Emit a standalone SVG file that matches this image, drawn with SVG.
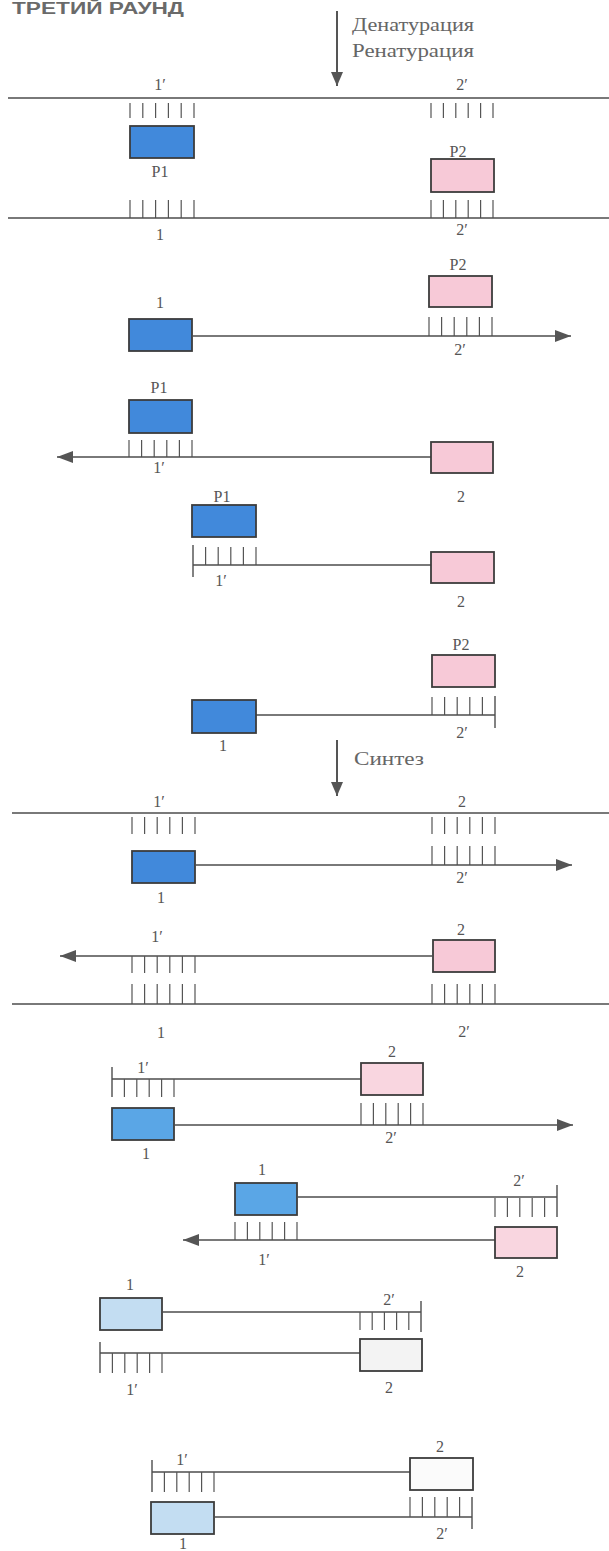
<svg xmlns="http://www.w3.org/2000/svg" width="609" height="1551" viewBox="0 0 609 1551">
<defs>
<style>
.ln{stroke:#4d4d4d;stroke-width:1.6;fill:none}
.tk{stroke:#555;stroke-width:1.2;fill:none}
.cap{stroke:#4d4d4d;stroke-width:1.4;fill:none}
.bx{stroke:#3c3c3c;stroke-width:1.8}
.b1{fill:#4189db}
.b2{fill:#5aa6e6}
.b3{fill:#c3ddf2}
.pk{fill:#f7c9d7}
.pk2{fill:#f9d6e0}
.gr{fill:#f3f3f3}
.wh{fill:#fbfbfb}
.lb{font-family:"Liberation Serif","Times New Roman",serif;font-size:16px;fill:#555;text-anchor:middle}
.st{font-family:"Liberation Serif","Times New Roman",serif;font-size:18px;fill:#666}
.tt{font-family:"Liberation Sans",Arial,sans-serif;font-size:16px;font-weight:bold;fill:#6a6a6a}
.ar{stroke:#555;stroke-width:2;fill:none}
</style>
<marker id="ah" markerUnits="userSpaceOnUse" viewBox="0 0 16 12" refX="16" refY="6" markerWidth="16" markerHeight="12" orient="auto">
<path d="M0 0 L16 6 L0 12 Z" fill="#555"/>
</marker>
<marker id="ahv" markerUnits="userSpaceOnUse" viewBox="0 0 14 12" refX="14" refY="6" markerWidth="14" markerHeight="12" orient="auto">
<path d="M0 0 L14 6 L0 12 Z" fill="#555"/>
</marker>
</defs>
<rect width="609" height="1551" fill="#fff"/>

<text class="tt" x="12" y="13.5" textLength="172" lengthAdjust="spacingAndGlyphs">ТРЕТИЙ РАУНД</text>

<g id="connectors">
<line class="ar" x1="337" y1="11" x2="337" y2="86" marker-end="url(#ahv)"/>
<line class="ar" x1="337" y1="740" x2="337" y2="796" marker-end="url(#ahv)"/>
</g>
<g id="step-labels">
<text class="st" x="352" y="31" textLength="122" lengthAdjust="spacingAndGlyphs">Денатурация</text>
<text class="st" x="352" y="57" textLength="122" lengthAdjust="spacingAndGlyphs">Ренатурация</text>
<text class="st" x="354" y="765" textLength="70" lengthAdjust="spacingAndGlyphs">Синтез</text>
</g>

<!-- Block 1 -->
<g id="block1">
<text class="lb" x="160" y="90">1′</text>
<text class="lb" x="462" y="90">2′</text>
<path class="ln" d="M8 98 H609"/>
<path class="tk" d="M130 103V118M142.8 103V118M155.6 103V118M168.4 103V118M181.2 103V118M194 103V118"/>
<path class="tk" d="M431 103V118M443.4 103V118M455.8 103V118M468.2 103V118M480.6 103V118M493 103V118"/>
<rect id="b1-p1" class="bx b1" x="130" y="126" width="64" height="32"/>
<text class="lb" x="160" y="177">P1</text>
<text class="lb" x="458" y="157">P2</text>
<rect id="b1-p2" class="bx pk" x="431" y="159" width="63" height="33"/>
<path class="tk" d="M130 200V218M142.8 200V218M155.6 200V218M168.4 200V218M181.2 200V218M194 200V218"/>
<path class="tk" d="M431 200V218M443.4 200V218M455.8 200V218M468.2 200V218M480.6 200V218M493 200V218"/>
<path class="ln" d="M8 218 H609"/>
<text class="lb" x="160" y="240">1</text>
<text class="lb" x="462" y="235">2′</text>
</g>

<!-- Block 2a -->
<g id="block2a">
<text class="lb" x="458" y="270">P2</text>
<rect class="bx pk" x="429" y="276" width="63" height="31"/>
<text class="lb" x="160" y="308">1</text>
<rect class="bx b1" x="129" y="319" width="63" height="32"/>
<path class="tk" d="M429 317V336M441.6 317V336M454.2 317V336M466.8 317V336M479.4 317V336M492 317V336"/>
<path class="ln" d="M192 336 H571" marker-end="url(#ah)"/>
<text class="lb" x="460" y="355">2′</text>
</g>

<!-- Block 2b -->
<g id="block2b">
<text class="lb" x="159" y="393">P1</text>
<rect class="bx b1" x="129" y="400" width="63" height="33"/>
<path class="tk" d="M129 440V457M141.6 440V457M154.2 440V457M166.8 440V457M179.4 440V457M192 440V457"/>
<path class="ln" d="M431 457 H57" marker-end="url(#ah)"/>
<rect class="bx pk" x="431" y="442" width="62" height="31"/>
<text class="lb" x="159" y="473">1′</text>
<text class="lb" x="461" y="502">2</text>
</g>

<!-- Block 3a -->
<g id="block3a">
<text class="lb" x="222" y="502">P1</text>
<rect class="bx b1" x="192" y="505" width="64" height="32"/>
<path class="cap" d="M193 545V577"/>
<path class="tk" d="M205.6 547V565M218.2 547V565M230.8 547V565M243.4 547V565M256 547V565"/>
<path class="ln" d="M193 565 H431"/>
<rect class="bx pk" x="431" y="552" width="63" height="31"/>
<text class="lb" x="221" y="586">1′</text>
<text class="lb" x="461" y="607">2</text>
</g>

<!-- Block 3b -->
<g id="block3b">
<text class="lb" x="461" y="650">P2</text>
<rect class="bx pk" x="432" y="655" width="63" height="32"/>
<path class="tk" d="M432 697V715M444.6 697V715M457.2 697V715M469.8 697V715M482.4 697V715"/>
<path class="cap" d="M495 696V728"/>
<path class="ln" d="M256 715 H495"/>
<rect class="bx b1" x="192" y="700" width="64" height="33"/>
<text class="lb" x="462" y="738">2′</text>
<text class="lb" x="223" y="751">1</text>
</g>

<!-- Block 4 -->
<g id="block4">
<text class="lb" x="159" y="807">1′</text>
<text class="lb" x="462" y="807">2</text>
<path class="ln" d="M12 813 H609"/>
<path class="tk" d="M132 817V834M144.6 817V834M157.2 817V834M169.8 817V834M182.4 817V834M195 817V834"/>
<path class="tk" d="M432 817V834M444.6 817V834M457.2 817V834M469.8 817V834M482.4 817V834M495 817V834"/>
<rect class="bx b1" x="132" y="851" width="63" height="32"/>
<path class="tk" d="M432 846V865M444.6 846V865M457.2 846V865M469.8 846V865M482.4 846V865M495 846V865"/>
<path class="ln" d="M195 865 H572" marker-end="url(#ah)"/>
<text class="lb" x="462" y="883">2′</text>
<text class="lb" x="161" y="903">1</text>
<text class="lb" x="461" y="935">2</text>
<text class="lb" x="157" y="942">1′</text>
<rect class="bx pk" x="433" y="940" width="62" height="32"/>
<path class="ln" d="M433 956 H60" marker-end="url(#ah)"/>
<path class="tk" d="M132 956V973M144.6 956V973M157.2 956V973M169.8 956V973M182.4 956V973M195 956V973"/>
<path class="tk" d="M132 984V1004M144.6 984V1004M157.2 984V1004M169.8 984V1004M182.4 984V1004M195 984V1004"/>
<path class="tk" d="M432 984V1004M444.6 984V1004M457.2 984V1004M469.8 984V1004M482.4 984V1004M495 984V1004"/>
<path class="ln" d="M12 1004 H609"/>
<text class="lb" x="161" y="1038">1</text>
<text class="lb" x="464" y="1037">2′</text>
</g>

<!-- Block 5a -->
<g id="block5a">
<text class="lb" x="392" y="1057">2</text>
<text class="lb" x="143" y="1073">1′</text>
<path class="cap" d="M112 1067V1097"/>
<path class="ln" d="M112 1079 H361"/>
<path class="tk" d="M124.4 1079V1097M136.8 1079V1097M149.2 1079V1097M161.6 1079V1097M174 1079V1097"/>
<rect class="bx pk2" x="361" y="1063" width="62" height="32"/>
<rect class="bx b2" x="112" y="1108" width="62" height="32"/>
<path class="tk" d="M361 1103V1125M373.4 1103V1125M385.8 1103V1125M398.2 1103V1125M410.6 1103V1125M423 1103V1125"/>
<path class="ln" d="M174 1125 H573" marker-end="url(#ah)"/>
<text class="lb" x="391" y="1143">2′</text>
<text class="lb" x="146" y="1159">1</text>
</g>

<!-- Block 5b -->
<g id="block5b">
<text class="lb" x="262" y="1175">1</text>
<text class="lb" x="519" y="1186">2′</text>
<rect class="bx b2" x="235" y="1183" width="62" height="32"/>
<path class="ln" d="M297 1197 H557"/>
<path class="cap" d="M557 1185V1217"/>
<path class="tk" d="M495 1198V1217M507.4 1198V1217M519.8 1198V1217M532.2 1198V1217M544.6 1198V1217"/>
<path class="tk" d="M235 1222V1240M247.4 1222V1240M259.8 1222V1240M272.2 1222V1240M284.6 1222V1240M297 1222V1240"/>
<path class="ln" d="M495 1240 H183" marker-end="url(#ah)"/>
<rect class="bx pk2" x="495" y="1227" width="62" height="31"/>
<text class="lb" x="264" y="1265">1′</text>
<text class="lb" x="520" y="1277">2</text>
</g>

<!-- Block 6 -->
<g id="block6">
<text class="lb" x="130" y="1290">1</text>
<text class="lb" x="389" y="1305">2′</text>
<rect class="bx b3" x="100" y="1298" width="62" height="32"/>
<path class="ln" d="M162 1312 H421"/>
<path class="tk" d="M360 1312V1330M372.2 1312V1330M384.4 1312V1330M396.6 1312V1330M408.8 1312V1330"/>
<path class="cap" d="M421 1301V1332"/>
<path class="cap" d="M100 1342V1373"/>
<path class="ln" d="M100 1353 H360"/>
<path class="tk" d="M112.4 1353V1373M124.8 1353V1373M137.2 1353V1373M149.6 1353V1373M162 1353V1373"/>
<rect class="bx gr" x="360" y="1339" width="62" height="32"/>
<text class="lb" x="132" y="1395">1′</text>
<text class="lb" x="389" y="1393">2</text>
</g>

<!-- Block 7 -->
<g id="block7">
<text class="lb" x="440" y="1452">2</text>
<text class="lb" x="182" y="1465">1′</text>
<path class="cap" d="M152 1460V1492"/>
<path class="ln" d="M152 1472 H410"/>
<path class="tk" d="M164.4 1472V1492M176.8 1472V1492M189.2 1472V1492M201.6 1472V1492M214 1472V1492"/>
<rect class="bx wh" x="410" y="1458" width="63" height="32"/>
<rect class="bx b3" x="151" y="1502" width="63" height="32"/>
<path class="ln" d="M214 1517 H472"/>
<path class="tk" d="M410 1497V1517M422.4 1497V1517M434.8 1497V1517M447.2 1497V1517M459.6 1497V1517"/>
<path class="cap" d="M472 1497V1529"/>
<text class="lb" x="442" y="1539">2′</text>
<text class="lb" x="183" y="1549">1</text>
</g>
</svg>
